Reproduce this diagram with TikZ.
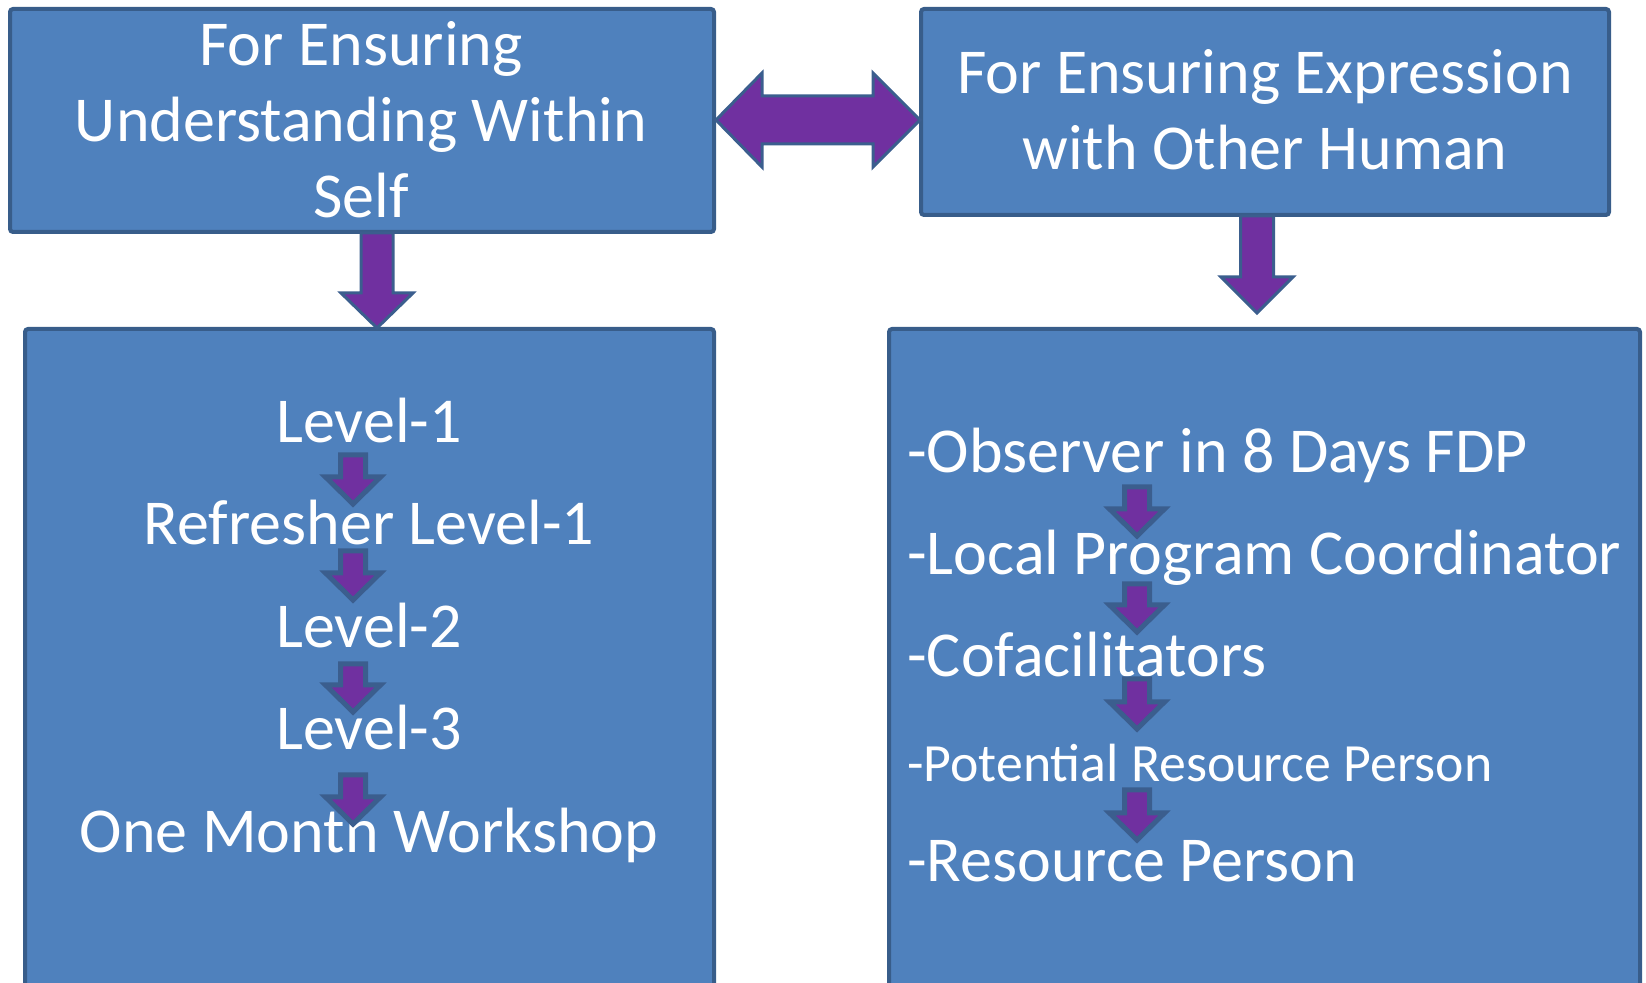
\documentclass[tikz,border=0pt]{standalone}
\usepackage{fontspec}
\setmainfont{Carlito}
\definecolor{boxfill}{HTML}{4F81BD}
\definecolor{boxline}{HTML}{385D8A}
\definecolor{arrfill}{HTML}{7030A0}
\definecolor{arrline}{HTML}{3B5E8E}
\tikzset{
  box/.style={draw=boxline, fill=boxfill, line width=2pt, rounded corners=1.5pt},
  bigarrow/.style={draw=arrline, fill=arrfill, line width=1.5pt, line join=miter},
  smallarrow/.style={draw=arrline, fill=arrfill, line width=2.5pt, line join=miter},
  big/.style={text=white, inner sep=0pt, font=\fontsize{32}{38}\selectfont},
  small/.style={text=white, inner sep=0pt, font=\fontsize{26.9}{32}\selectfont},
}
% cx, top, tip, shaft half, head half, head length
\newcommand\dnarrow[7]{%
  \draw[#1] (#2-#5,#3) -- (#2+#5,#3) -- (#2+#5,#4-#7) -- (#2+#6,#4-#7) -- (#2,#4)
    -- (#2-#6,#4-#7) -- (#2-#5,#4-#7) -- cycle;}
\begin{document}
\begin{tikzpicture}[x=0.5pt,y=-0.5pt]
\useasboundingbox (0,0) rectangle (1646,983);
% boxes
\draw[box] (10,9) rectangle (714,232);
\draw[box] (921,9) rectangle (1609,215);
\draw[box] (25,329) rectangle (714,1000);
\draw[box] (889,329) rectangle (1640,1000);
% double arrow
\draw[bigarrow] (716,120) -- (762,73) -- (762,96) -- (873,96) -- (873,73) -- (920,120)
  -- (873,167) -- (873,144) -- (762,144) -- (762,167) -- cycle;
% big down arrows
\dnarrow{bigarrow}{377}{233}{328}{16}{36}{35}
\dnarrow{bigarrow}{1257}{216}{313}{16.5}{36}{36}
% titles
\node[big, anchor=base] (t1a) at (361,66) {For Ensuring};
\node[big, anchor=base] (t1b) at (361,142) {Understanding Within};
\node[big, anchor=base] (t1c) at (361,218) {Self};
\node[big, anchor=base] (t2a) at (1265,94) {For Ensuring Expression};
\node[big, anchor=base] (t2b) at (1265,170) {with Other Human};
% left items
\node[big, anchor=base] (l1) at (369,443) {Level-1};
\node[big, anchor=base] (l2) at (369,545) {Refresher Level-1};
\node[big, anchor=base] (l3) at (369,648) {Level-2};
\node[big, anchor=base] (l4) at (369,750) {Level-3};
\node[big, anchor=base] (l5) at (369,853) {One Montn Workshop};
\dnarrow{smallarrow}{353}{455}{504}{12.5}{27.5}{27}
\dnarrow{smallarrow}{353}{551}{600}{12.5}{27.5}{27}
\dnarrow{smallarrow}{353}{664}{712}{12.5}{27.5}{27}
\dnarrow{smallarrow}{353}{775}{824}{12.5}{27.5}{27}
% right items
\node[big, anchor=base west] (r1) at (907,473) {-Observer in 8 Days FDP};
\node[big, anchor=base west] (r2) at (907,575) {-Local Program Coordinator};
\node[big, anchor=base west] (r3) at (907,677) {-Cofacilitators};
\node[small, anchor=base west] (r4) at (907,782) {-Potential Resource Person};
\node[big, anchor=base west] (r5) at (907,882) {-Resource Person};
\dnarrow{smallarrow}{1137}{487}{536}{12.5}{27.5}{27}
\dnarrow{smallarrow}{1137}{584}{632}{12.5}{27.5}{27}
\dnarrow{smallarrow}{1137}{679}{729}{12.5}{27.5}{27}
\dnarrow{smallarrow}{1137}{790}{840}{12.5}{27.5}{27}
\end{tikzpicture}
\end{document}
